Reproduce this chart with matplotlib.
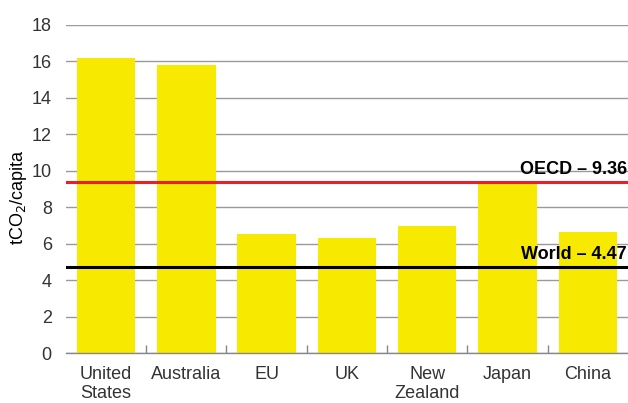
import matplotlib
matplotlib.use('Agg')
import matplotlib.pyplot as plt
import numpy as np

plt.rcParams['font.family'] = ['Liberation Sans', 'DejaVu Sans']

# 各国人均排放
countries = ['United\nStates', 'Australia', 'EU', 'UK', 'New\nZealand', 'Japan', 'China']
values = [16.17, 15.79, 6.54, 6.32, 6.98, 9.35, 6.67]

# 参考线（画线位置按图读取，标签按原图文字）
oecd_line = 9.41
oecd_label = 'OECD – 9.36'
world_line = 4.75
world_label = 'World – 4.47'

yticks = [0, 2, 4, 6, 8, 10, 12, 14, 16, 18]

fig = plt.figure(figsize=(6.28, 4.03), dpi=100)
ax = fig.add_axes([0.1046, 0.1233, 0.8954, 0.8147])

x = np.arange(len(countries))
ax.bar(x, values, width=0.73, color='#F7E900', zorder=2)

ax.axhline(oecd_line, color='#E8202A', lw=2.2, zorder=3)
ax.axhline(world_line, color='black', lw=2.2, zorder=3)

ax.text(0.998, oecd_line + 0.22, oecd_label, transform=ax.get_yaxis_transform(),
        ha='right', va='bottom', fontsize=13, fontweight='bold', color='black', zorder=4)
ax.text(0.998, world_line + 0.22, world_label, transform=ax.get_yaxis_transform(),
        ha='right', va='bottom', fontsize=13, fontweight='bold', color='black', zorder=4)

ax.set_xlim(-0.5, len(countries) - 0.5)
ax.set_ylim(0, 18)
ax.set_yticks(yticks)
ax.yaxis.grid(True, color='#9a9a9a', lw=1, zorder=1)
ax.set_axisbelow(True)

ax.set_xticks(x)
ax.set_xticklabels(countries)
ax.set_xticks(np.arange(0.5, len(countries) - 1, 1), minor=True)
ax.tick_params(axis='x', which='major', length=0, pad=9, labelsize=13, labelcolor='#333333')
ax.tick_params(axis='x', which='minor', direction='in', length=6, width=1, color='#888888')
ax.tick_params(axis='y', length=0, pad=10, labelsize=13, labelcolor='#333333')

for s in ['top', 'right', 'left']:
    ax.spines[s].set_visible(False)
ax.spines['bottom'].set_color('#888888')
ax.spines['bottom'].set_linewidth(1)

fig.text(0.030, 0.51, r'tCO$_2$/capita', rotation=90, ha='center', va='center',
         fontsize=13, color='black')

plt.savefig('out.png', dpi=100)
